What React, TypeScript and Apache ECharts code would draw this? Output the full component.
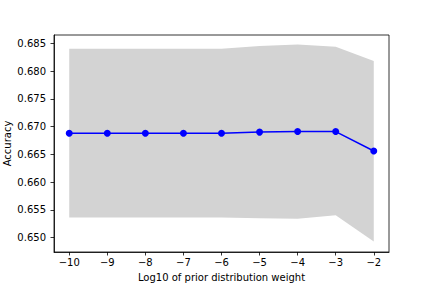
import React, { useEffect, useRef } from "react";
import * as echarts from "echarts";

const xValues = [-10, -9, -8, -7, -6, -5, -4, -3, -2];
const meanAcc = [0.6688, 0.6688, 0.6688, 0.6688, 0.6688, 0.6690, 0.6691, 0.6691, 0.6656];
const upperAcc = [0.6840, 0.6840, 0.6840, 0.6840, 0.6840, 0.6845, 0.6848, 0.6844, 0.6818];
const lowerAcc = [0.6536, 0.6536, 0.6536, 0.6536, 0.6536, 0.6535, 0.6534, 0.6540, 0.6493];
const xTicks = [-10, -9, -8, -7, -6, -5, -4, -3, -2];
const yTicks = [0.650, 0.655, 0.660, 0.665, 0.670, 0.675, 0.680, 0.685];

const FONT = "DejaVu Sans";

export default function App() {
  const ref = useRef<HTMLDivElement>(null);
  useEffect(() => {
    if (!ref.current) return;
    const chart = echarts.init(ref.current, undefined, { renderer: "svg" });
    const bandData = xValues.map((x, i) => [x, lowerAcc[i], upperAcc[i]]);
    chart.setOption({
      animation: false,
      grid: {
        left: 54, right: 43, top: 35, bottom: 36,
        containLabel: false, outerBoundsMode: "none",
        show: true, borderColor: "#000", borderWidth: 0.8, backgroundColor: "transparent",
      },
      xAxis: {
        type: "value",
        min: -10.4,
        max: -1.6,
        name: "Log10 of prior distribution weight",
        nameLocation: "middle",
        nameGap: 20,
        nameMoveOverlap: false,
        nameTextStyle: { fontFamily: FONT, fontSize: 10, color: "#000" },
        axisLine: { show: true, onZero: false, lineStyle: { color: "#000", width: 0.8 } },
        axisTick: { show: true, inside: false, length: 3.5, lineStyle: { color: "#000", width: 0.8 }, customValues: xTicks },
        axisLabel: {
          customValues: xTicks,
          margin: 5,
          fontFamily: FONT,
          fontSize: 10,
          color: "#000",
          formatter: (v: number) => String(v).replace("-", "\u2212"),
        },
        splitLine: { show: false },
      },
      yAxis: {
        type: "value",
        min: 0.6474,
        max: 0.6865,
        name: "Accuracy",
        nameLocation: "middle",
        nameGap: 42,
        nameMoveOverlap: false,
        nameTextStyle: { fontFamily: FONT, fontSize: 10, color: "#000" },
        axisLine: { show: true, onZero: false, lineStyle: { color: "#000", width: 0.8 } },
        axisTick: { show: true, inside: false, length: 3.5, lineStyle: { color: "#000", width: 0.8 }, customValues: yTicks },
        axisLabel: {
          customValues: yTicks,
          margin: 8,
          fontFamily: FONT,
          fontSize: 10,
          color: "#000",
          formatter: (v: number) => v.toFixed(3),
        },
        splitLine: { show: false },
      },
      series: [
        {
          type: "custom",
          data: bandData,
          encode: { x: 0, y: [1, 2] },
          silent: true,
          z: 1,
          renderItem: (params: any, api: any) => {
            if (params.dataIndex !== 0) return null;
            const top = bandData.map((d) => api.coord([d[0], d[2]]));
            const bottom = bandData.slice().reverse().map((d) => api.coord([d[0], d[1]]));
            return {
              type: "polygon",
              shape: { points: top.concat(bottom) },
              style: { fill: "#d3d3d3", stroke: "none" },
            };
          },
        },
        {
          type: "line",
          data: xValues.map((x, i) => [x, meanAcc[i]]),
          z: 3,
          symbol: "circle",
          symbolSize: 7,
          showSymbol: true,
          itemStyle: { color: "#0000ff" },
          lineStyle: { color: "#0000ff", width: 1.5 },
        },
      ],
    });
    return () => chart.dispose();
  }, []);
  return <div ref={ref} style={{ width: 432, height: 288, position: "absolute", left: 0, top: 0 }} />;
}
